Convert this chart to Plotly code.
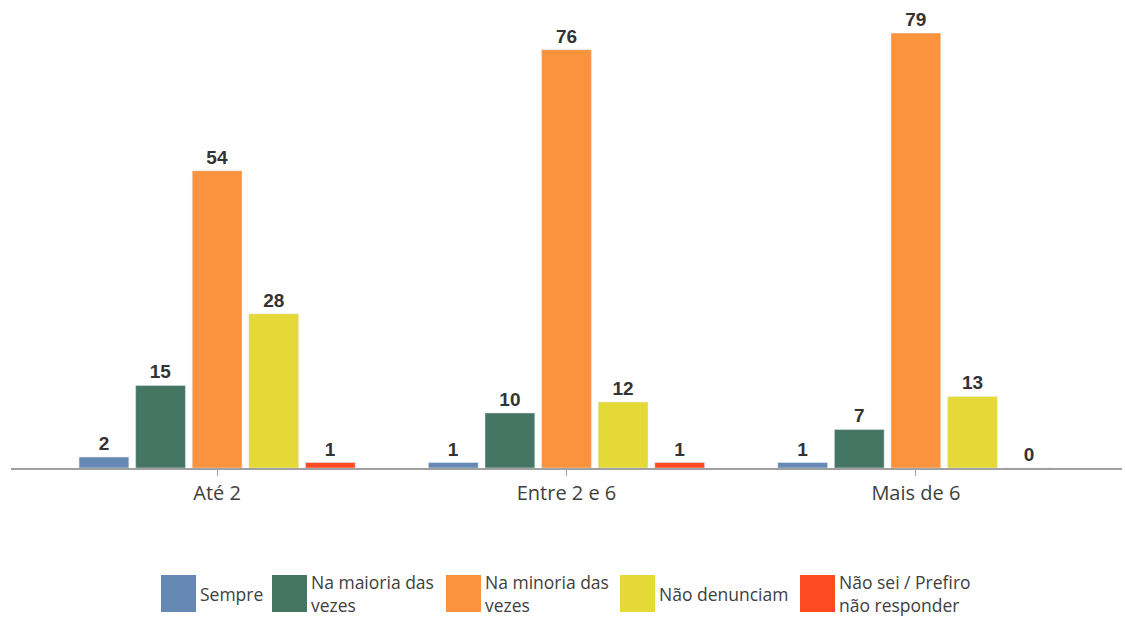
import plotly.graph_objects as go

categories = ["Até 2", "Entre 2 e 6", "Mais de 6"]
series_names = ["Sempre", "Na maioria das vezes", "Na minoria das vezes", "Não denunciam", "Não sei / Prefiro não responder"]
legend_labels = ["Sempre", "Na maioria das<br>vezes", "Na minoria das<br>vezes", "Não denunciam", "Não sei / Prefiro<br>não responder"]
values = [
    [2, 1, 1],
    [15, 10, 7],
    [54, 76, 79],
    [28, 12, 13],
    [1, 1, 0],
]
colors = ["#6689B3", "#457563", "#FA923E", "#E4D937", "#FF4B21"]

W, H = 1125, 617
ml, mr, mt, mb = 11, 3, 10, 149
pw, ph = W - ml - mr, H - mt - mb

fig = go.Figure()
for name, vals, col in zip(series_names, values, colors):
    fig.add_trace(go.Bar(
        x=categories, y=vals, name=name, marker_color=col,
        text=[str(v) for v in vals], textposition="outside",
        textfont=dict(family="Arial", size=19, color="#333333", weight="bold"),
        constraintext="none", cliponaxis=False, showlegend=False,
    ))

# manual legend (pixel layout converted to paper coords)
def px(x):
    return (x - ml) / pw
def py(y):
    return (H - mb - y) / ph

box_x = [161, 272, 446, 620, 800]
shapes = []
annotations = []
for bx, lab, col in zip(box_x, legend_labels, colors):
    shapes.append(dict(type="rect", xref="paper", yref="paper",
                       x0=px(bx), x1=px(bx + 35), y0=py(612), y1=py(575),
                       fillcolor=col, line=dict(width=0)))
    annotations.append(dict(xref="paper", yref="paper", x=px(bx + 37), y=py(594),
                            xanchor="left", yanchor="middle", text=lab, showarrow=False, align="left",
                            font=dict(family="Open Sans", size=17.5, color="#404040")))

fig.update_layout(
    width=W, height=H,
    margin=dict(l=ml, r=mr, t=mt, b=mb),
    paper_bgcolor="white", plot_bgcolor="white",
    barmode="group", bargap=0.19, bargroupgap=0.12,
    xaxis=dict(range=[-0.59, 2.59], showline=True, linecolor="#A0A0A0", linewidth=2,
               ticks="outside", ticklen=6, tickcolor="#A0A0A0",
               tickfont=dict(family="Open Sans", size=20, color="#404040"), showgrid=False),
    yaxis=dict(range=[0, 83.2], visible=False, showgrid=False, zeroline=False),
    shapes=shapes, annotations=annotations,
)
fig.write_html("out.html", config={"displayModeBar": False},
               post_script="document.body.style.margin='0';document.body.style.overflow='hidden';")
